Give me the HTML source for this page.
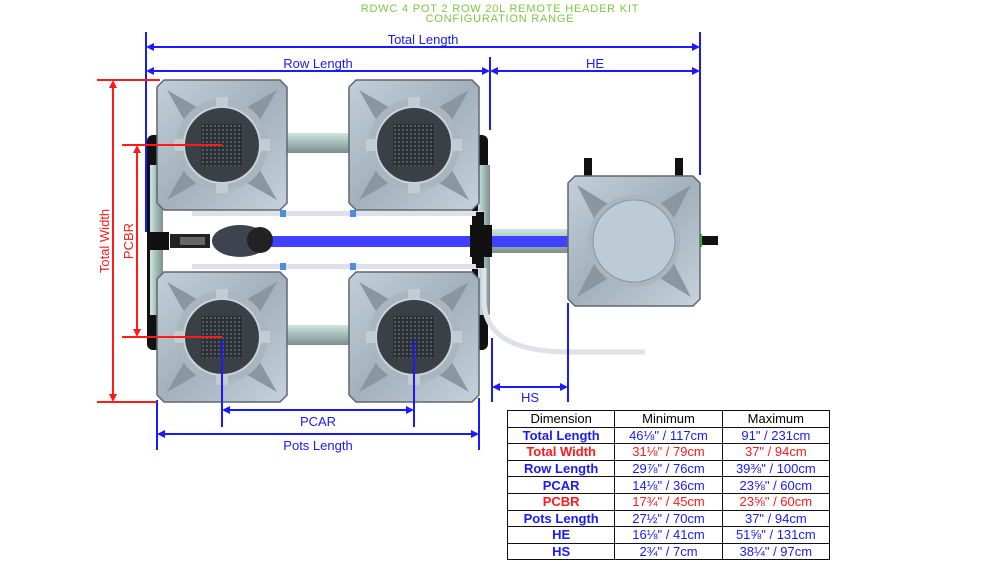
<!DOCTYPE html>
<html><head><meta charset="utf-8"><style>
body{margin:0;background:#fff;width:1000px;height:586px;overflow:hidden;font-family:"Liberation Sans",sans-serif}
svg{position:absolute;left:0;top:0}
table{position:absolute;left:507px;top:410px;border-collapse:collapse;font-size:13px;table-layout:fixed;width:323px}
td{border:1.5px solid #111;height:15.6px;padding:0;text-align:center;line-height:15px;color:#1a1aff;white-space:nowrap}
td.h{color:#000;font-weight:normal}
td.b{font-weight:bold}
tr.r td{color:#ff1a1a}
tr.r td.h{color:#000}
</style></head><body>
<svg width="1000" height="586" viewBox="0 0 1000 586">
<defs>
<linearGradient id="pot" x1="0" y1="0" x2="1" y2="1"><stop offset="0" stop-color="#c3d0da"/><stop offset="0.5" stop-color="#a3b1bc"/><stop offset="1" stop-color="#c6d2dc"/></linearGradient>
<linearGradient id="pipeH" x1="0" y1="0" x2="0" y2="1"><stop offset="0" stop-color="#cfe6e0"/><stop offset="0.4" stop-color="#a9c4bf"/><stop offset="1" stop-color="#7d8f90"/></linearGradient>
<linearGradient id="pipeV" x1="0" y1="0" x2="1" y2="0"><stop offset="0" stop-color="#cfe6e0"/><stop offset="0.4" stop-color="#a9c4bf"/><stop offset="1" stop-color="#7d8f90"/></linearGradient>
<pattern id="grid" width="4" height="4" patternUnits="userSpaceOnUse"><rect width="4" height="4" fill="#2c3035"/><rect width="2" height="2" fill="#555b62"/></pattern>
<g id="potg">
<path d="M-58,-65 H58 L65,-58 V58 L58,65 H-58 L-65,58 V-58 Z" fill="url(#pot)" stroke="#5e676e" stroke-width="1.5"/>
<path d="M-55,-55 L-20,-35 L-35,-20 Z M55,-55 L20,-35 L35,-20 Z M-55,55 L-20,35 L-35,20 Z M55,55 L20,35 L35,20 Z" fill="#8a96a0"/>
<circle r="46" fill="#a9b6c0"/>
<circle r="38" fill="#3b4047" stroke="#c9d3db" stroke-width="2"/>
<rect x="-21" y="-21" width="42" height="42" fill="url(#grid)"/>
<rect x="-6" y="-48" width="12" height="10" fill="#c3ccd3"/>
<rect x="-6" y="38" width="12" height="10" fill="#c3ccd3"/>
<rect x="-48" y="-6" width="10" height="12" fill="#c3ccd3"/>
<rect x="38" y="-6" width="10" height="12" fill="#c3ccd3"/>
</g>
</defs>
<text x="500" y="12" text-anchor="middle" font-size="11" fill="#7ac943" letter-spacing="0.8">RDWC 4 POT 2 ROW 20L REMOTE HEADER KIT</text>
<text x="500" y="22" text-anchor="middle" font-size="11" fill="#7ac943" letter-spacing="0.8">CONFIGURATION RANGE</text>

<rect x="147" y="135" width="16" height="215" rx="6" fill="#111"/>
<rect x="150" y="165" width="13" height="150" fill="url(#pipeV)"/>
<rect x="472" y="135" width="16" height="215" rx="6" fill="#111"/>
<rect x="478" y="165" width="12" height="150" fill="url(#pipeV)"/>
<rect x="287" y="133" width="62" height="20" fill="url(#pipeH)"/>
<rect x="287" y="325" width="62" height="20" fill="url(#pipeH)"/>
<rect x="192" y="211" width="292" height="5" fill="#dfe0ea"/>
<rect x="192" y="264" width="292" height="5" fill="#dfe0ea"/>
<rect x="280" y="210" width="6" height="7" fill="#4a90e2"/><rect x="350" y="210" width="6" height="7" fill="#4a90e2"/>
<rect x="280" y="263" width="6" height="7" fill="#4a90e2"/><rect x="350" y="263" width="6" height="7" fill="#4a90e2"/>
<path d="M484,268 V300 Q484,352 570,352 H645" fill="none" stroke="#dfe0ea" stroke-width="5"/>
<rect x="490" y="229" width="80" height="24" fill="url(#pipeH)"/>
<rect x="270" y="236" width="300" height="11" fill="#4040ff"/>
<rect x="470" y="225" width="22" height="32" fill="#111"/>
<rect x="476" y="212" width="8" height="56" fill="#111"/>
<rect x="147" y="232" width="22" height="18" fill="#111"/>
<rect x="170" y="234" width="40" height="14" fill="#222"/>
<rect x="180" y="237" width="25" height="8" fill="#666"/>
<ellipse cx="240" cy="241" rx="28" ry="16" fill="#3d4450"/>
<circle cx="260" cy="240" r="13" fill="#222"/>

<use href="#potg" x="222" y="145"/>
<use href="#potg" x="414" y="145"/>
<use href="#potg" x="222" y="337"/>
<use href="#potg" x="414" y="337"/>

<rect x="584" y="158" width="8" height="18" fill="#111"/>
<rect x="675" y="158" width="8" height="18" fill="#111"/>
<rect x="700" y="236" width="18" height="9" fill="#111"/><rect x="699" y="234" width="3" height="13" fill="#1c1"/>
<path d="M575,176 H693 L700,183 V299 L693,306 H575 L568,299 V183 Z" fill="url(#pot)" stroke="#5e676e" stroke-width="1.5"/>
<path d="M577,185 L610,205 L595,220 Z M691,185 L658,205 L673,220 Z M577,297 L610,277 L595,262 Z M691,297 L658,277 L673,262 Z" fill="#8a96a0"/>
<circle cx="634" cy="241" r="46" fill="#a9b6c0"/>
<circle cx="634" cy="241" r="41" fill="#bccbd6" stroke="#8996a0" stroke-width="1"/>

<g stroke="#1a1aff" stroke-width="2" fill="none">
<line x1="146" y1="32" x2="146" y2="232"/><line x1="700" y1="32" x2="700" y2="175"/>
<line x1="150" y1="47" x2="696" y2="47"/>
<line x1="490" y1="57" x2="490" y2="130"/>
<line x1="150" y1="71" x2="486" y2="71"/><line x1="494" y1="71" x2="696" y2="71"/>
<line x1="157" y1="400" x2="157" y2="450"/><line x1="479" y1="398" x2="479" y2="450"/>
<line x1="161" y1="434" x2="475" y2="434"/>
<line x1="222" y1="340" x2="222" y2="427"/><line x1="414" y1="340" x2="414" y2="427"/>
<line x1="226" y1="410" x2="410" y2="410"/>
<line x1="492" y1="338" x2="492" y2="402"/><line x1="568" y1="303" x2="568" y2="402"/>
<line x1="496" y1="387" x2="564" y2="387"/>
</g>
<g fill="#1a1aff">
<path d="M146,47 l8,-4 v8z M700,47 l-8,-4 v8z M146,71 l8,-4 v8z M490,71 l-8,-4 v8z M490,71 l8,-4 v8z M700,71 l-8,-4 v8z M157,434 l8,-4 v8z M479,434 l-8,-4 v8z M222,410 l8,-4 v8z M414,410 l-8,-4 v8z M492,387 l8,-4 v8z M568,387 l-8,-4 v8z"/>
</g>
<g fill="#1a1aff" font-size="13" text-anchor="middle">
<text x="423" y="44">Total Length</text>
<text x="318" y="68">Row Length</text>
<text x="595" y="68">HE</text>
<text x="318" y="426">PCAR</text>
<text x="318" y="450">Pots Length</text>
<text x="530" y="402">HS</text>
</g>
<g stroke="#ff1a1a" stroke-width="2" fill="none">
<line x1="97" y1="80" x2="160" y2="80"/><line x1="97" y1="402" x2="157" y2="402"/>
<line x1="113" y1="84" x2="113" y2="398"/>
<line x1="122" y1="145" x2="222" y2="145"/><line x1="122" y1="337" x2="222" y2="337"/>
<line x1="137" y1="149" x2="137" y2="333"/>
</g>
<path fill="#ff1a1a" d="M113,80 l-4,8 h8z M113,402 l-4,-8 h8z M137,145 l-4,8 h8z M137,337 l-4,-8 h8z"/>
<text transform="translate(109,241) rotate(-90)" text-anchor="middle" font-size="13" fill="#ff1a1a">Total Width</text>
<text transform="translate(133,241) rotate(-90)" text-anchor="middle" font-size="13" fill="#ff1a1a">PCBR</text>
</svg>
<table>
<tr><td class="h">Dimension</td><td class="h">Minimum</td><td class="h">Maximum</td></tr>
<tr><td class="b">Total Length</td><td>46⅛" / 117cm</td><td>91" / 231cm</td></tr>
<tr class="r"><td class="b">Total Width</td><td>31⅛" / 79cm</td><td>37" / 94cm</td></tr>
<tr><td class="b">Row Length</td><td>29⅞" / 76cm</td><td>39⅜" / 100cm</td></tr>
<tr><td class="b">PCAR</td><td>14⅛" / 36cm</td><td>23⅝" / 60cm</td></tr>
<tr class="r"><td class="b">PCBR</td><td>17¾" / 45cm</td><td>23⅝" / 60cm</td></tr>
<tr><td class="b">Pots Length</td><td>27½" / 70cm</td><td>37" / 94cm</td></tr>
<tr><td class="b">HE</td><td>16⅛" / 41cm</td><td>51⅝" / 131cm</td></tr>
<tr><td class="b">HS</td><td>2¾" / 7cm</td><td>38¼" / 97cm</td></tr>
</table>
</body></html>
